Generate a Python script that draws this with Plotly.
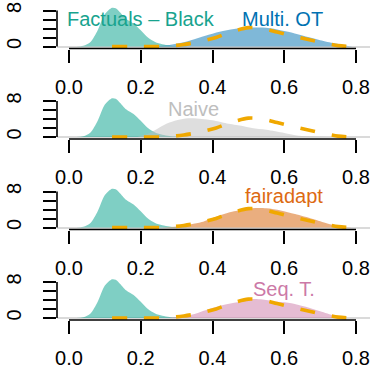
import plotly.graph_objects as go

# ---------------- data ----------------
x_tick_vals = [0.0, 0.2, 0.4, 0.6, 0.8]
x_tick_text = ["0.0", "0.2", "0.4", "0.6", "0.8"]
y_tick_vals = [0, 2, 4, 6, 8]
y_tick_text = ["0", "", "", "", "8"]

# Factuals - Black (same in every panel)
fact_x = [0.02, 0.04, 0.06, 0.08, 0.10, 0.12, 0.13, 0.14, 0.16, 0.18, 0.20, 0.22, 0.24, 0.26, 0.28, 0.30, 0.33, 0.35]
fact_y = [0.0, 0.15, 1.0, 3.6, 7.2, 8.6, 8.5, 7.8, 6.1, 5.1, 3.6, 2.0, 1.0, 0.5, 0.25, 0.1, 0.02, 0.0]

# dashed reference density (same in every panel)
dash_x = [0.12, 0.20, 0.27, 0.32, 0.36, 0.41, 0.45, 0.50, 0.54, 0.58, 0.62, 0.67, 0.71, 0.75, 0.78]
dash_y = [0.0, 0.0, 0.05, 0.45, 1.0, 2.0, 3.2, 4.2, 4.0, 3.2, 2.4, 1.5, 0.8, 0.2, 0.0]

# counterfactual methods
ot_x = [0.22, 0.26, 0.30, 0.34, 0.38, 0.42, 0.46, 0.50, 0.54, 0.58, 0.62, 0.66, 0.70, 0.74, 0.77, 0.79]
ot_y = [0.02, 0.15, 0.6, 1.4, 2.4, 3.3, 3.9, 4.2, 4.2, 3.8, 3.1, 2.2, 1.4, 0.7, 0.2, 0.0]

naive_x = [0.19, 0.22, 0.25, 0.28, 0.31, 0.34, 0.37, 0.40, 0.44, 0.48, 0.51, 0.55, 0.60, 0.64, 0.68, 0.72]
naive_y = [0.0, 0.7, 2.0, 3.2, 3.9, 4.15, 4.0, 3.7, 3.0, 2.5, 2.0, 1.6, 0.9, 0.3, 0.1, 0.0]

fair_x = [0.26, 0.30, 0.34, 0.37, 0.41, 0.46, 0.51, 0.55, 0.59, 0.63, 0.68, 0.72, 0.75, 0.78, 0.80]
fair_y = [0.0, 0.2, 0.7, 1.2, 2.4, 3.6, 4.3, 4.3, 3.8, 3.0, 1.9, 0.9, 0.35, 0.05, 0.0]

seq_x = [0.27, 0.31, 0.35, 0.39, 0.43, 0.47, 0.51, 0.54, 0.58, 0.62, 0.66, 0.70, 0.74, 0.77, 0.79]
seq_y = [0.0, 0.3, 0.9, 2.0, 2.9, 3.5, 4.2, 4.1, 3.6, 3.3, 2.5, 1.5, 0.5, 0.05, 0.0]

panel_names = ["Multi. OT", "Naive", "fairadapt", "Seq. T."]
panel_x = [ot_x, naive_x, fair_x, seq_x]
panel_y = [ot_y, naive_y, fair_y, seq_y]
panel_fill = ["rgba(0,114,178,0.5)", "rgba(190,190,190,0.5)", "rgba(213,94,0,0.5)", "rgba(204,121,167,0.5)"]
panel_text_color = ["#0072B2", "#BEBEBE", "#DD6A12", "#CC79A7"]
panel_label_x = [0.595, 0.348, 0.599, 0.600]
panel_label_y = [6.0, 6.13, 7.0, 6.35]

fact_name = "Factuals \u2013 Black"
fact_fill = "rgba(0,160,138,0.5)"
fact_text_color = "#18A38E"
fact_label_x = 0.2
fact_label_y = 6.0

dash_color = "#F0A800"

# ---------------- layout geometry ----------------
W, H = 370, 366
FONT = "Liberation Sans, Arial, Helvetica, sans-serif"
left_px = 57
x0_px, x08_px = 69, 356
ppu_x = (x08_px - x0_px) / 0.8
x_range = [-(x0_px - left_px) / ppu_x, (W - x0_px) / ppu_x]
axis_px = [48.5, 139.0, 229.5, 320.0]
panel_h = 44
ppu_y = 4.5
y_lo = -2.0 / ppu_y
y_range = [y_lo, y_lo + panel_h / ppu_y]

fig = go.Figure()
layout = dict(
    width=W, height=H,
    margin=dict(l=0, r=0, t=0, b=0, pad=0, autoexpand=False),
    paper_bgcolor="white", plot_bgcolor="white",
    showlegend=False,
    template="none",
    font=dict(family=FONT, size=20, color="black"),
)
shapes = []
annotations = []

for k in range(4):
    xa = "x" if k == 0 else f"x{k+1}"
    ya = "y" if k == 0 else f"y{k+1}"
    xkey = "xaxis" if k == 0 else f"xaxis{k+1}"
    ykey = "yaxis" if k == 0 else f"yaxis{k+1}"

    fig.add_trace(go.Scatter(x=fact_x, y=fact_y, xaxis=xa, yaxis=ya, mode="lines",
                             line=dict(width=0, shape="spline", smoothing=0.8),
                             fill="tozeroy", fillcolor=fact_fill, hoverinfo="skip"))
    fig.add_trace(go.Scatter(x=panel_x[k], y=panel_y[k], xaxis=xa, yaxis=ya, mode="lines",
                             line=dict(width=0, shape="spline", smoothing=0.8),
                             fill="tozeroy", fillcolor=panel_fill[k], hoverinfo="skip"))
    fig.add_trace(go.Scatter(x=dash_x, y=dash_y, xaxis=xa, yaxis=ya, mode="lines",
                             line=dict(width=3.6, color=dash_color, dash="15px,17px",
                                       shape="spline", smoothing=0.8),
                             hoverinfo="skip"))

    bottom = axis_px[k]
    top = bottom - panel_h
    layout[xkey] = dict(
        domain=[left_px / W, 1.0], range=x_range, anchor=ya, automargin=False,
        tickvals=x_tick_vals, ticktext=x_tick_text,
        ticks="outside", ticklen=13, tickwidth=1.6, tickcolor="black",
        showline=False, showgrid=False, zeroline=False,
        ticklabelstandoff=7, tickfont=dict(size=20, family=FONT, color="black"),
    )
    layout[ykey] = dict(
        domain=[1 - bottom / H, 1 - top / H], range=y_range, anchor=xa, automargin=False,
        tickvals=y_tick_vals, ticktext=y_tick_text, tickangle=-90,
        ticks="outside", ticklen=13, tickwidth=1.6, tickcolor="black",
        showline=False, showgrid=False,
        zeroline=True, zerolinecolor="#DADADA", zerolinewidth=1.5,
        ticklabelstandoff=14, tickfont=dict(size=20, family=FONT, color="black"),
    )
    # R-style axis lines spanning first to last tick
    shapes.append(dict(type="line", xref=xa, yref=f"{ya} domain",
                       x0=x_tick_vals[0], x1=x_tick_vals[-1], y0=0, y1=0,
                       line=dict(color="black", width=1.6)))
    shapes.append(dict(type="line", xref=f"{xa} domain", yref=ya,
                       x0=0, x1=0, y0=y_tick_vals[0], y1=y_tick_vals[-1],
                       line=dict(color="black", width=1.6)))

    annotations.append(dict(x=panel_label_x[k], y=panel_label_y[k], xref=xa, yref=ya,
                            text=panel_names[k], showarrow=False,
                            font=dict(size=20, family=FONT, color=panel_text_color[k]),
                            xanchor="center", yanchor="middle"))
    if k == 0:
        annotations.append(dict(x=fact_label_x, y=fact_label_y, xref=xa, yref=ya,
                                text=fact_name, showarrow=False,
                                font=dict(size=20, family=FONT, color=fact_text_color),
                                xanchor="center", yanchor="middle"))

layout["shapes"] = shapes
layout["annotations"] = annotations
fig.update_layout(**layout)
fig.write_html("out.html")
